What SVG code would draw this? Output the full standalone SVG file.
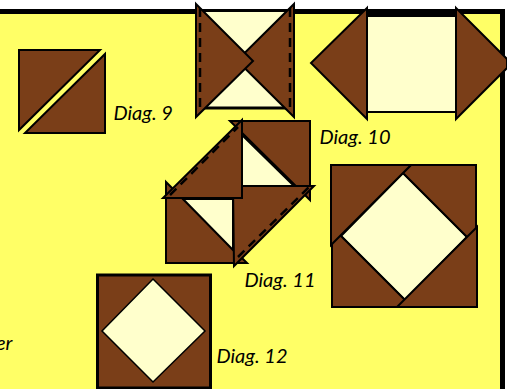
<svg xmlns="http://www.w3.org/2000/svg" width="507" height="389" viewBox="0 0 507 389">
<style>
.b{fill:#7a3e18;stroke:#000;stroke-width:2;stroke-linejoin:miter}
.c{fill:#ffffcc;stroke:#000;stroke-width:2}
.d{fill:none;stroke:#000;stroke-width:2.500;stroke-dasharray:9 6}
.t{font-family:"Lato","Open Sans",sans-serif;font-style:italic;font-size:20px;fill:#000}
</style>
<rect width="507" height="389" fill="#fff"/>
<rect x="0" y="9" width="504" height="380" fill="#ffff66"/>
<path d="M0 11.500H502.500V389" fill="none" stroke="#000" stroke-width="5"/>
<g id="diag9">
<polygon class="b" points="19,50 100,50 19,130"/>
<polygon class="b" points="105,54 105,133 25,133"/>
<text class="t" x="113.500" y="120">Diag. 9</text>
</g>
<g id="diag10">
<rect x="367" y="9" width="89" height="7" fill="#000"/>
<rect class="c" x="367" y="16" width="89" height="96"/>
<polygon class="b" points="367,8 311,63 367,119"/>
<polygon class="b" points="456,8 507,59 507,68 456,119"/>
<text class="t" x="319.500" y="144">Diag. 10</text>
</g>
<g id="diag-bowtie">
<rect x="197" y="12" width="96" height="96" fill="#ffffcc"/>
<path d="M197 108H293" stroke="#000" stroke-width="3" fill="none"/>
<polygon class="b" points="294,4 294,117 237,60.500"/>
<polygon class="b" points="196,4 253,61 196,117"/>
</g>
<g id="diag11">
<polygon class="b" points="230,121 310,121 310,200"/>
<polygon class="c" points="242,135 242,186 294,186"/>
<polygon class="b" points="166,182 166,263 247,263"/>
<polygon class="c" points="183,199 233,199 233,250"/>
<polygon class="b" points="233,186 314,186 234,266"/>
<polygon class="b" points="242,120 242,198 163,198"/>
<text class="t" x="244.500" y="287">Diag. 11</text>
</g>
<g id="diag-large">
<polygon class="c" points="403,173 467,237 405,300 341,236"/>
<polygon class="b" points="403,173 411,165 476,165 476,236 467,237"/>
<polygon class="b" points="332,236 341,236 405,300 403,307 332,307"/>
<polygon class="b" points="331,165 411,165 331,245"/>
<polygon class="b" points="477,227 477,307 397,307"/>
</g>
<g id="diag12">
<rect x="97.500" y="275" width="113" height="113" fill="#7a3e18" stroke="#000" stroke-width="3"/>
<polygon class="c" points="153,279 205,331 153,382 102,331" style="stroke-width:1.500"/>
<text class="t" x="216.500" y="363">Diag. 12</text>
</g>
<text class="t" x="-4" y="350">er</text>
<g id="connectors">
<path class="d" d="M200 8V112"/>
<path class="d" d="M290 8V112"/>
<path class="d" d="M170 195L238 127"/>
<path class="d" d="M238 257L309 187"/>
</g>
</svg>
